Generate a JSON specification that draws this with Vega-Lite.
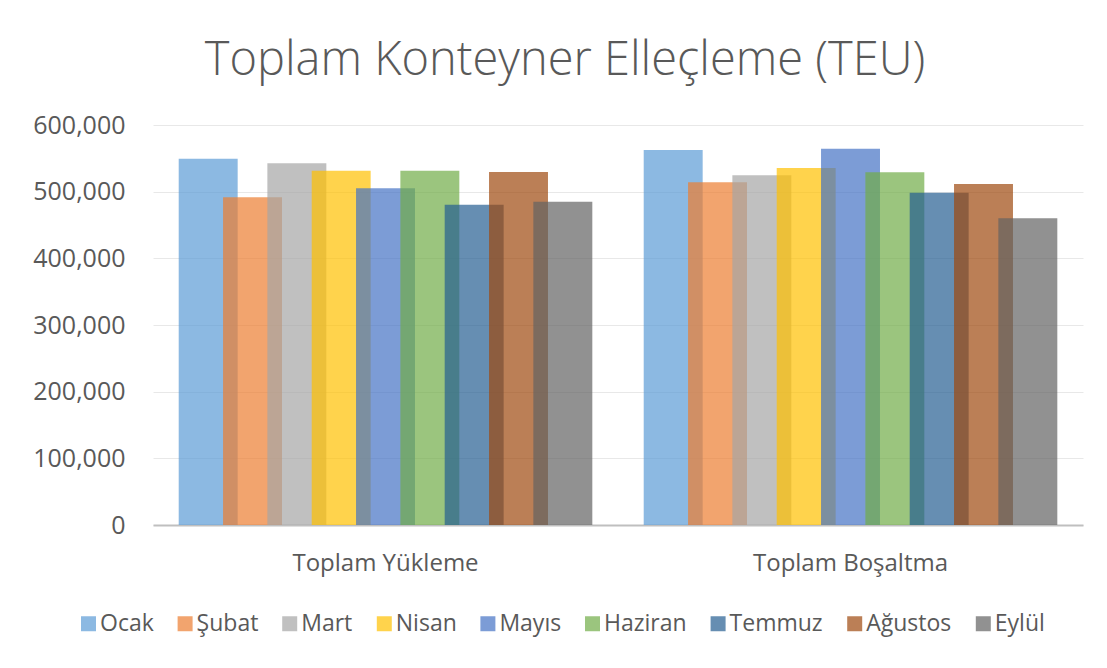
{
  "$schema": "https://vega.github.io/schema/vega-lite/v6.json",
  "width": 930,
  "height": 400,
  "autosize": {"type": "none"},
  "padding": {"left": 153, "top": 125, "right": 24, "bottom": 143},
  "background": "white",
  "config": {"view": {"stroke": null}, "font": "Open Sans"},
  "title": {
    "text": "Toplam Konteyner Elleçleme (TEU)",
    "anchor": "middle",
    "frame": "group",
    "dx": -53,
    "offset": 28,
    "fontSize": 47,
    "font": "Open Sans",
    "fontWeight": 300,
    "color": "#595959"
  },
  "data": {
    "values": [
      {"kategori": "Toplam Yükleme", "ay": "Ocak", "deger": 549500},
      {"kategori": "Toplam Yükleme", "ay": "Şubat", "deger": 491500},
      {"kategori": "Toplam Yükleme", "ay": "Mart", "deger": 542500},
      {"kategori": "Toplam Yükleme", "ay": "Nisan", "deger": 531500},
      {"kategori": "Toplam Yükleme", "ay": "Mayıs", "deger": 505000},
      {"kategori": "Toplam Yükleme", "ay": "Haziran", "deger": 531500},
      {"kategori": "Toplam Yükleme", "ay": "Temmuz", "deger": 480500},
      {"kategori": "Toplam Yükleme", "ay": "Ağustos", "deger": 529500},
      {"kategori": "Toplam Yükleme", "ay": "Eylül", "deger": 485000},
      {"kategori": "Toplam Boşaltma", "ay": "Ocak", "deger": 562500},
      {"kategori": "Toplam Boşaltma", "ay": "Şubat", "deger": 514000},
      {"kategori": "Toplam Boşaltma", "ay": "Mart", "deger": 524500},
      {"kategori": "Toplam Boşaltma", "ay": "Nisan", "deger": 535500},
      {"kategori": "Toplam Boşaltma", "ay": "Mayıs", "deger": 564500},
      {"kategori": "Toplam Boşaltma", "ay": "Haziran", "deger": 529000},
      {"kategori": "Toplam Boşaltma", "ay": "Temmuz", "deger": 498500},
      {"kategori": "Toplam Boşaltma", "ay": "Ağustos", "deger": 511500},
      {"kategori": "Toplam Boşaltma", "ay": "Eylül", "deger": 460000}
    ]
  },
  "mark": {"type": "bar", "width": {"band": 1.33}, "opacity": 0.7},
  "encoding": {
    "x": {
      "field": "kategori",
      "type": "nominal",
      "sort": ["Toplam Yükleme", "Toplam Boşaltma"],
      "scale": {"paddingInner": 0.142, "paddingOuter": 0.071},
      "axis": {
        "title": null,
        "labelAngle": 0,
        "ticks": false,
        "grid": false,
        "domainColor": "#BFBFBF",
        "domainWidth": 2,
        "labelPadding": 26,
        "labelFontSize": 24,
        "labelLimit": 0,
        "labelColor": "#595959",
        "labelFont": "Open Sans"
      }
    },
    "xOffset": {
      "field": "ay",
      "type": "nominal",
      "sort": ["Ocak", "Şubat", "Mart", "Nisan", "Mayıs", "Haziran", "Temmuz", "Ağustos", "Eylül"],
      "scale": {
        "range": [{"expr": "bandwidth('x') * 0.1467"}, {"expr": "bandwidth('x') * 1.1467"}]
      }
    },
    "y": {
      "field": "deger",
      "type": "quantitative",
      "scale": {"domain": [0, 600000], "nice": false},
      "axis": {
        "title": null,
        "values": [0, 100000, 200000, 300000, 400000, 500000, 600000],
        "format": ",.0f",
        "domain": false,
        "ticks": false,
        "grid": true,
        "gridColor": "#E8E8E8",
        "gridWidth": 1,
        "labelPadding": 28,
        "labelFontSize": 25,
        "labelColor": "#595959",
        "labelFont": "Open Sans"
      }
    },
    "color": {
      "field": "ay",
      "type": "nominal",
      "sort": ["Ocak", "Şubat", "Mart", "Nisan", "Mayıs", "Haziran", "Temmuz", "Ağustos", "Eylül"],
      "scale": {
        "domain": ["Ocak", "Şubat", "Mart", "Nisan", "Mayıs", "Haziran", "Temmuz", "Ağustos", "Eylül"],
        "range": ["#5B9BD5", "#ED7D31", "#A5A5A5", "#FFC000", "#4472C4", "#70AD47", "#255E91", "#9E480E", "#636363"]
      },
      "legend": {
        "title": null,
        "orient": "none",
        "legendX": -76,
        "legendY": 487,
        "direction": "horizontal",
        "symbolType": "square",
        "symbolSize": 225,
        "symbolOpacity": 0.7,
        "symbolStrokeWidth": 0,
        "labelFontSize": 23,
        "labelColor": "#595959",
        "labelFont": "Open Sans",
        "labelOffset": 0,
        "columnPadding": 19.6
      }
    }
  }
}
